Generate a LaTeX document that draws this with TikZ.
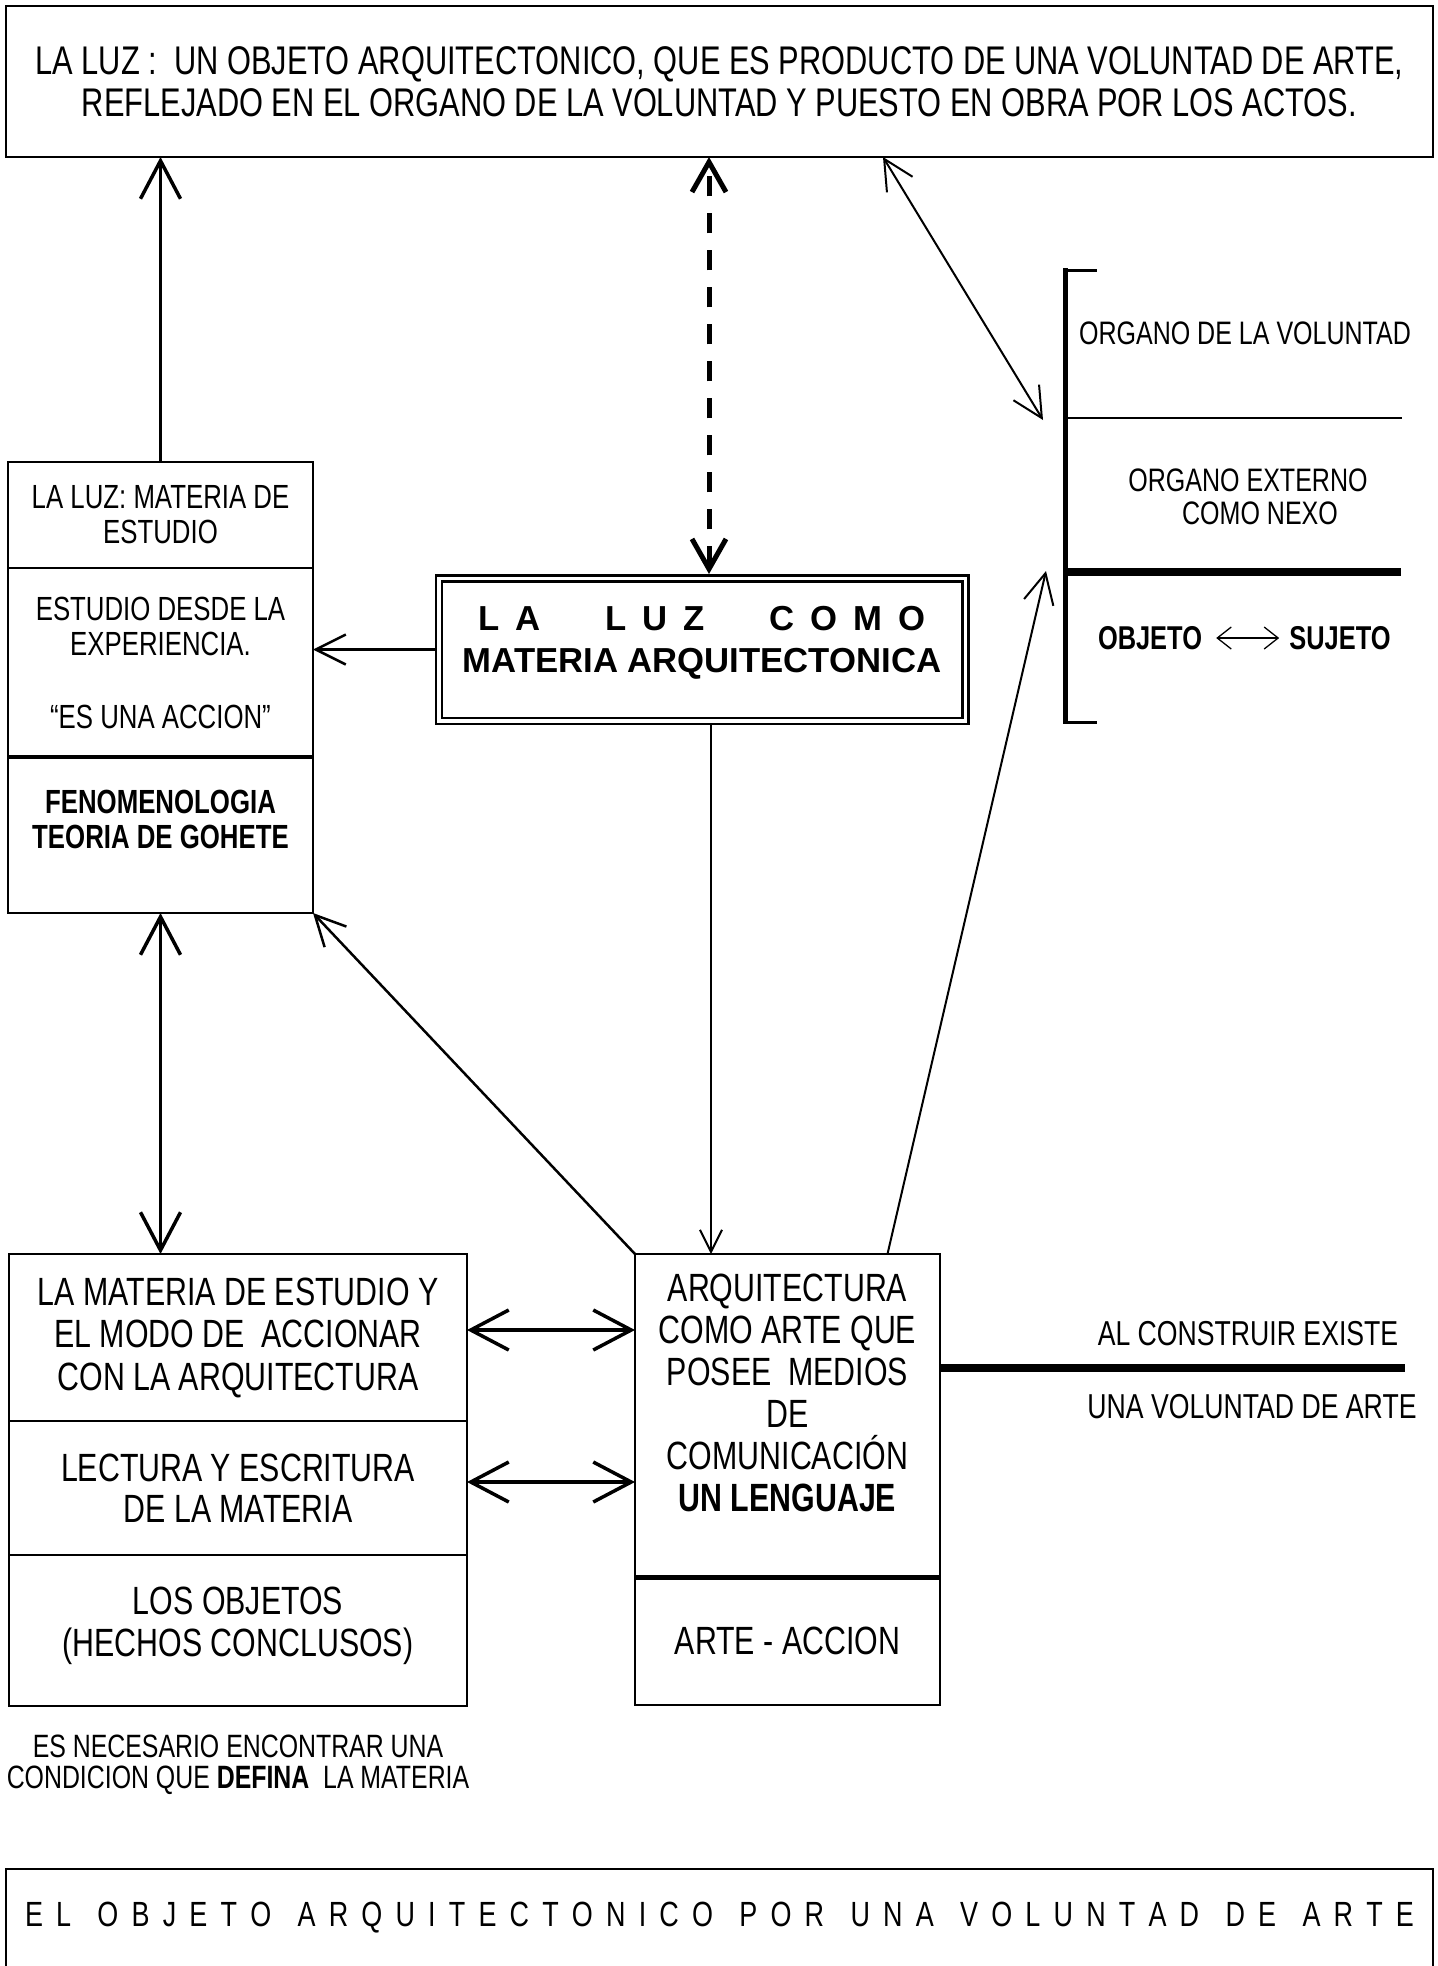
\documentclass[tikz,border=0pt]{standalone}
\usepackage{fontspec}
\setmainfont{Liberation Sans}[FakeStretch=0.77]
\newfontfamily\widesans{Liberation Sans}
\usetikzlibrary{arrows.meta,positioning}
\newcommand{\txtsize}[2]{\fontsize{#1pt}{#2pt}\selectfont}

\begin{document}
\begin{tikzpicture}[x=1pt,y=-1pt]
\tikzstyle{cell} = [draw, line width=2pt, rectangle, inner sep=0pt, outer sep=0pt, align=center]
\tikzstyle{plain} = [inner sep=0pt, align=center]
\tikzstyle{heavy} = [line width=3.5pt, >={Straight Barb[length=38pt,width=40pt]}]
\tikzstyle{light} = [line width=2pt, >={Straight Barb[length=30pt,width=30pt]}]

\useasboundingbox (0,0) rectangle (1438,1966);
\clip (0,0) rectangle (1438,1966);

% top statement
\node[cell, minimum width=1427pt, minimum height=151pt, font=\txtsize{40}{42}] (title) at (719.5,81.5)
  {LA LUZ :\ \ UN OBJETO ARQUITECTONICO, QUE ES PRODUCTO DE UNA VOLUNTAD DE ARTE,\\
   REFLEJADO EN EL ORGANO DE LA VOLUNTAD Y PUESTO EN OBRA POR LOS ACTOS.};

% left column
\node[cell, minimum width=305pt, minimum height=106pt, font=\txtsize{33.5}{35}] (luzA) at (160.5,515)
  {LA LUZ: MATERIA DE\\ESTUDIO};
\node[cell, minimum width=305pt, minimum height=189pt, font=\txtsize{33.5}{35}, below=0pt of luzA] (luzB)
  {ESTUDIO DESDE LA\\EXPERIENCIA.\\[38pt]“ES UNA ACCION”};
\node[cell, minimum width=305pt, minimum height=156pt, font=\txtsize{33.5}{35}\bfseries, below=0pt of luzB] (luzC)
  {FENOMENOLOGIA\\TEORIA DE GOHETE\\[-4pt]\mbox{}};
\draw[line width=3.5pt] (luzB.south west) -- (luzB.south east);

% central box
\node[draw, double, double distance=3.5pt, line width=2.5pt, outer sep=4.25pt, inner sep=0pt,
      minimum width=526.5pt, minimum height=142.5pt, align=center,
      font=\widesans\bfseries\txtsize{34.7}{42}] (centre) at (702,649.5)
  {\makebox[448pt][s]{L A \ \ \ L U Z \ \ \ C O M O}\\MATERIA ARQUITECTONICA\\[-22pt]\mbox{}};

% bracket on the right
\draw[line width=5pt] (1065,268) -- (1065,724);
\draw[line width=3pt] (1063,270) -- (1097,270) (1063,722) -- (1097,722);
\draw[line width=1.5pt] (1065,418) -- (1402,418);
\draw[line width=8pt] (1065,572) -- (1401,572);
\coordinate (organ) at (1043,420);
\coordinate (nexus) at (1046,571);
\node[plain, font=\txtsize{32.5}{33}] (voluntad) at (1245,333) {ORGANO DE LA VOLUNTAD};
\node[plain, font=\txtsize{32.5}{33}] (externo) at (1248,497) {ORGANO EXTERNO\\\hspace*{24pt}COMO NEXO};
\node[plain, font=\txtsize{33}{33}\bfseries] (objeto) at (1150,638) {OBJETO};
\node[plain, font=\txtsize{33}{33}\bfseries] (sujeto) at (1340,638) {SUJETO};
\draw[line width=1.3pt, <->, >={Straight Barb[length=14pt,width=22pt]}, shorten <=14pt, shorten >=10pt]
  (objeto) -- (sujeto);

% lower boxes
\node[cell, minimum width=458pt, minimum height=167pt, font=\txtsize{39.4}{42.5}] (matA) at (238,1337.5)
  {LA MATERIA DE ESTUDIO Y\\EL MODO DE\ \ ACCIONAR\\CON LA ARQUITECTURA};
\node[cell, minimum width=458pt, minimum height=134pt, font=\txtsize{39.4}{41}, below=0pt of matA] (matB)
  {LECTURA Y ESCRITURA\\DE LA MATERIA};
\node[cell, minimum width=458pt, minimum height=151pt, font=\txtsize{39.4}{42}, below=0pt of matB] (matC)
  {LOS OBJETOS\\(HECHOS CONCLUSOS)\\[-24pt]\mbox{}};

\node[cell, minimum width=305pt, minimum height=323pt, font=\txtsize{39.4}{42}] (artA) at (787.5,1415.5)
  {ARQUITECTURA\\COMO ARTE QUE\\POSEE\ \ MEDIOS\\DE\\COMUNICACIÓN\\\textbf{UN LENGUAJE}\\[4pt]\mbox{}};
\node[cell, minimum width=305pt, minimum height=128pt, font=\txtsize{39.4}{42}, below=0pt of artA] (artB)
  {ARTE - ACCION};
\draw[line width=5pt] (artA.south west) -- (artA.south east);

\coordinate (wille) at (1405,1368);
\draw[line width=8pt] (artA.east |- wille) -- (wille);
\node[plain, font=\txtsize{34.6}{33}] (construir) at (1248,1334) {AL CONSTRUIR EXISTE};
\node[plain, font=\txtsize{34.6}{33}] (arte) at (1252,1407) {UNA VOLUNTAD DE ARTE};

\node[plain, font=\txtsize{32.3}{31}] (note) at (238,1764.5)
  {ES NECESARIO ENCONTRAR UNA\\CONDICION QUE \textbf{DEFINA}\ \ LA MATERIA};

% closing statement
\node[draw, line width=2pt, anchor=north, minimum width=1427pt, inner sep=0pt,
      text height=57pt, text depth=160pt, font=\txtsize{35}{35}] (closing) at (719.5,1868)
  {\makebox[1389pt][s]{E L \ O B J E T O \ A R Q U I T E C T O N I C O \ P O R \ U N A \ V O L U N T A D \ D E \ A R T E}};

% connectors
\draw[heavy, ->] (luzA.north) -- (luzA.north |- title.south);
\draw[heavy, <->] (luzC.south) -- (luzC.south |- matA.north);
\draw[heavy, <->] ([yshift=7.5pt]matA.east) -- ([yshift=7.5pt]matA.east -| artA.west);
\draw[heavy, <->] ([yshift=6pt]matB.east) -- ([yshift=6pt]matB.east -| artA.west);
\draw[light, line width=2.5pt, ->] (centre.west) -- (centre.west -| luzB.east);
\draw[light, ->, >={Straight Barb[length=22pt,width=22pt]}] ([xshift=9pt]centre.south) -- ([xshift=9pt]centre.south |- artA.north);
\draw[light, line width=2.5pt, ->] (artA.north west) -- (luzC.south east);
\draw[light, ->] ([xshift=100pt]artA.north) -- (nexus);
\draw[light, <->] ([xshift=163.5pt]title.south) -- (organ);
\draw[heavy, <->, line width=5pt, dash pattern=on 20pt off 17pt, >={Straight Barb[length=30pt,width=34pt]}]
  ([xshift=7pt]centre.north) -- ([xshift=7pt]centre.north |- title.south);
\end{tikzpicture}
\end{document}
